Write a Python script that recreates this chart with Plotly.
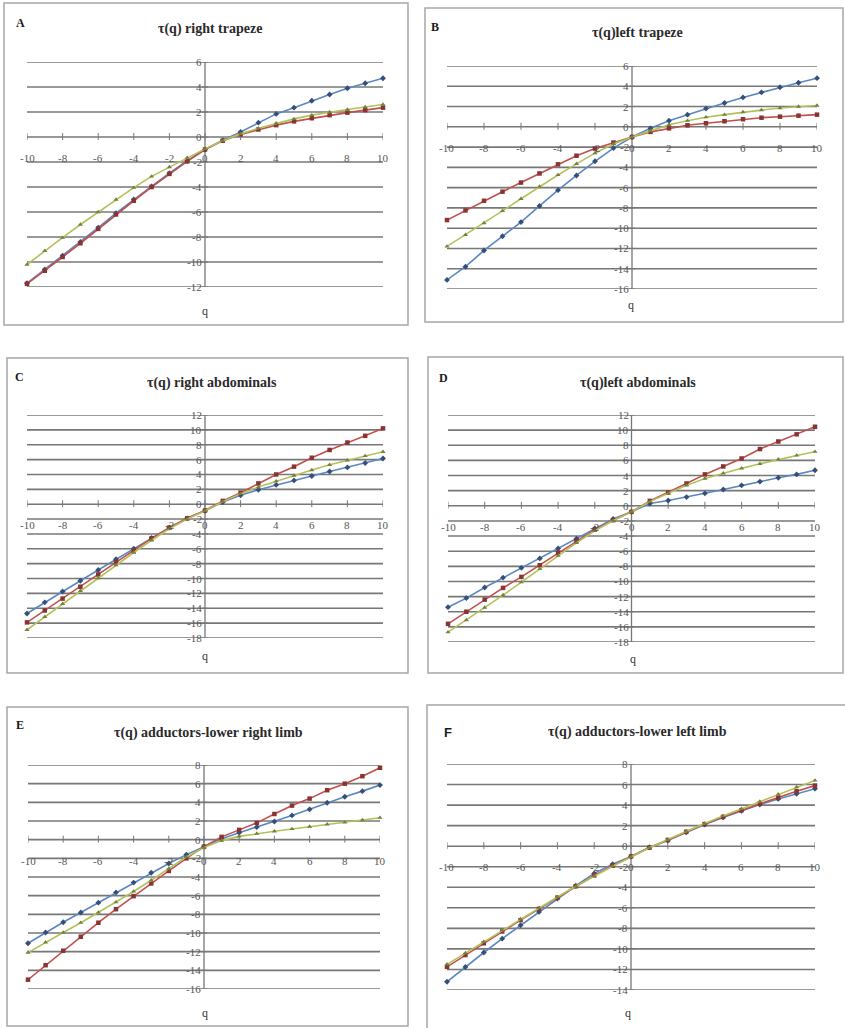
import plotly.graph_objects as go

# q values shared by every panel
Q = list(range(-10, 11))

# tau(q) curves, three series per panel (blue, red, green)
A_BLUE = [-11.7, -10.6, -9.5, -8.4, -7.25, -6.1, -5.0, -3.95, -2.9, -1.9, -1.0, -0.25, 0.4, 1.15, 1.85, 2.35, 2.9, 3.4, 3.9, 4.3, 4.7]
A_RED = [-11.75, -10.7, -9.6, -8.5, -7.35, -6.2, -5.1, -4.0, -2.95, -1.95, -1.0, -0.3, 0.2, 0.6, 0.95, 1.25, 1.5, 1.75, 1.95, 2.15, 2.35]
A_GREEN = [-10.2, -9.1, -8.05, -7.0, -6.0, -5.0, -4.05, -3.15, -2.4, -1.65, -0.95, -0.3, 0.25, 0.7, 1.1, 1.45, 1.75, 2.0, 2.2, 2.4, 2.6]

B_BLUE = [-15.1, -13.8, -12.2, -10.8, -9.4, -7.8, -6.25, -4.8, -3.4, -2.1, -1.0, -0.15, 0.6, 1.2, 1.8, 2.35, 2.9, 3.4, 3.9, 4.35, 4.8]
B_RED = [-9.2, -8.25, -7.3, -6.4, -5.5, -4.6, -3.7, -2.85, -2.15, -1.55, -1.0, -0.5, -0.15, 0.15, 0.35, 0.55, 0.75, 0.9, 1.0, 1.1, 1.2]
B_GREEN = [-11.8, -10.65, -9.5, -8.3, -7.1, -5.9, -4.75, -3.65, -2.6, -1.7, -1.0, -0.4, 0.2, 0.6, 0.95, 1.2, 1.45, 1.65, 1.85, 2.0, 2.1]

C_BLUE = [-14.7, -13.2, -11.75, -10.3, -8.85, -7.4, -6.0, -4.55, -3.15, -1.9, -0.9, 0.3, 1.2, 1.95, 2.6, 3.2, 3.8, 4.4, 4.95, 5.55, 6.15]
C_RED = [-15.9, -14.3, -12.7, -11.1, -9.45, -7.8, -6.2, -4.6, -3.15, -1.9, -0.85, 0.45, 1.55, 2.8, 4.0, 5.05, 6.25, 7.3, 8.3, 9.2, 10.2]
C_GREEN = [-16.9, -15.15, -13.4, -11.65, -9.95, -8.2, -6.5, -4.85, -3.3, -2.0, -0.9, 0.35, 1.4, 2.3, 3.1, 3.85, 4.6, 5.3, 5.9, 6.5, 7.05]

D_BLUE = [-13.4, -12.2, -10.8, -9.5, -8.2, -6.95, -5.65, -4.35, -3.0, -1.75, -0.8, 0.3, 0.7, 1.15, 1.65, 2.15, 2.7, 3.2, 3.7, 4.15, 4.7]
D_RED = [-15.6, -14.0, -12.4, -10.85, -9.4, -7.85, -6.2, -4.65, -3.15, -1.9, -0.8, 0.65, 1.75, 2.95, 4.15, 5.2, 6.25, 7.5, 8.5, 9.45, 10.45]
D_GREEN = [-16.7, -15.1, -13.45, -11.8, -10.1, -8.35, -6.6, -4.9, -3.3, -1.95, -0.8, 0.55, 1.65, 2.7, 3.6, 4.3, 4.95, 5.55, 6.15, 6.65, 7.15]

E_BLUE = [-11.1, -9.95, -8.85, -7.8, -6.75, -5.65, -4.6, -3.55, -2.55, -1.6, -0.75, 0.1, 0.75, 1.35, 1.95, 2.6, 3.25, 3.95, 4.6, 5.2, 5.85]
E_RED = [-15.0, -13.45, -11.9, -10.4, -8.9, -7.45, -6.05, -4.7, -3.35, -2.0, -0.75, 0.3, 1.05, 1.8, 2.75, 3.65, 4.4, 5.3, 6.0, 6.8, 7.7]
E_GREEN = [-12.1, -11.0, -9.95, -8.9, -7.8, -6.7, -5.55, -4.35, -3.1, -1.85, -0.85, -0.1, 0.35, 0.65, 0.9, 1.15, 1.4, 1.65, 1.85, 2.1, 2.35]

F_BLUE = [-13.2, -11.75, -10.35, -9.0, -7.7, -6.4, -5.1, -3.85, -2.65, -1.75, -1.0, -0.1, 0.55, 1.35, 2.1, 2.8, 3.45, 4.05, 4.6, 5.1, 5.6]
F_RED = [-11.75, -10.6, -9.45, -8.3, -7.2, -6.1, -5.0, -3.9, -2.85, -1.9, -1.0, -0.15, 0.6, 1.4, 2.15, 2.85, 3.5, 4.15, 4.75, 5.35, 5.9]
F_GREEN = [-11.5, -10.4, -9.3, -8.2, -7.1, -6.0, -4.95, -3.9, -2.9, -1.95, -1.05, -0.15, 0.65, 1.45, 2.2, 2.95, 3.65, 4.35, 5.05, 5.75, 6.4]

PANEL_LETTERS = ["A", "B", "C", "D", "E", "F"]
PANEL_TITLES = [
    "τ(q) right trapeze",
    "τ(q)left trapeze",
    "τ(q) right abdominals",
    "τ(q)left abdominals",
    "τ(q) adductors-lower right limb",
    "τ(q) adductors-lower left limb",
]
# y-axis extent (min, max) per panel, gridlines every 2
Y_LIMITS = [(-12, 6), (-16, 6), (-18, 12), (-18, 12), (-16, 8), (-14, 8)]
X_TICKS = list(range(-10, 11, 2))
X_AXIS_TITLE = "q"

SERIES = [
    (A_BLUE, A_RED, A_GREEN),
    (B_BLUE, B_RED, B_GREEN),
    (C_BLUE, C_RED, C_GREEN),
    (D_BLUE, D_RED, D_GREEN),
    (E_BLUE, E_RED, E_GREEN),
    (F_BLUE, F_RED, F_GREEN),
]

# ---- page geometry (pixels) ----
W, H = 845, 1028
# plot area: left, right, top, bottom
PLOT_BOX = [
    (27, 383, 62, 287),
    (447, 817, 66, 289),
    (27, 383, 415, 638),
    (448, 815, 415, 642),
    (28, 380, 765, 989),
    (447, 815, 764, 990),
]
# outer frame: x0, y0, x1, y1
FRAME = [
    (4, 3, 408, 325),
    (425, 8, 843, 322),
    (7, 358, 408, 673),
    (428, 357, 843, 673),
    (7, 707, 408, 1026),
    (427, 705, 846, 1029),
]
LETTER_POS = [(20, 23), (435, 27), (19, 377), (443, 378), (20, 725), (448, 732)]
TITLE_POS = [(210, 29), (637, 33), (212, 383), (638, 383), (208, 733), (637, 732)]
QLABEL_POS = [(205, 311), (631, 305), (205, 656), (633, 659), (205, 1013), (628, 1013)]

LINE_COLORS = ["#5b87c0", "#c0504d", "#b4c05a"]
MARK_COLORS = ["#34507a", "#8a3431", "#76823a"]
MARK_SYMBOLS = ["diamond", "square", "triangle-up"]
GRID_COLOR = "#777777"
TICK_FONT = dict(family="Liberation Serif", size=11, color="#555555")


def fx(px):
    return px / W


def fy(px):
    return 1 - px / H


fig = go.Figure()
shapes = []
annotations = []

for i in range(6):
    n = "" if i == 0 else str(i + 1)
    xa, ya = "x" + n, "y" + n
    left, right, top, bottom = PLOT_BOX[i]
    ymin, ymax = Y_LIMITS[i]

    fig.layout["xaxis" + n] = dict(
        domain=[fx(left), fx(right)], range=[-10, 10], visible=False,
        anchor=ya, fixedrange=True,
    )
    fig.layout["yaxis" + n] = dict(
        domain=[fy(bottom), fy(top)], range=[ymin, ymax], visible=False,
        anchor=xa, fixedrange=True,
    )

    # horizontal gridlines
    for v in range(ymin, ymax + 1, 2):
        shapes.append(dict(type="line", xref=xa, yref=ya, x0=-10, x1=10.1,
                           y0=v, y1=v, layer="below",
                           line=dict(color=GRID_COLOR, width=1.6)))
        # small tick on the vertical axis
        shapes.append(dict(type="line", xref=xa, yref=ya, xsizemode="pixel",
                           xanchor=0, x0=-3, x1=3, y0=v, y1=v, layer="below",
                           line=dict(color=GRID_COLOR, width=1)))
        annotations.append(dict(xref=xa, yref=ya, x=0, y=v, text=str(v),
                                showarrow=False, xanchor="right", yanchor="middle",
                                xshift=-1, font=TICK_FONT))

    # vertical axis at q = 0
    shapes.append(dict(type="line", xref=xa, yref=ya, x0=0, x1=0,
                       y0=ymin - 0.15, y1=ymax, layer="below",
                       line=dict(color=GRID_COLOR, width=1.3)))

    # ticks and labels along the horizontal axis at tau = 0
    for q in X_TICKS:
        shapes.append(dict(type="line", xref=xa, yref=ya, ysizemode="pixel",
                           yanchor=0, y0=-3, y1=4, x0=q, x1=q, layer="below",
                           line=dict(color=GRID_COLOR, width=1)))
        annotations.append(dict(xref=xa, yref=ya, x=q, y=0, text=str(q),
                                showarrow=False, xanchor="center", yanchor="middle",
                                yshift=-21, font=TICK_FONT))

    # frame around the panel
    x0, y0, x1, y1 = FRAME[i]
    shapes.append(dict(type="rect", xref="paper", yref="paper",
                       x0=fx(x0), x1=fx(x1), y0=fy(y1), y1=fy(y0),
                       line=dict(color="#a6a6a6", width=1.5)))

    # panel letter, title and axis title
    lx, ly = LETTER_POS[i]
    letter_font = dict(family="Liberation Serif", size=12, color="#1a1a1a")
    if PANEL_LETTERS[i] == "F":
        letter_font = dict(family="Liberation Sans", size=13, color="#1a1a1a")
    annotations.append(dict(xref="paper", yref="paper", x=fx(lx), y=fy(ly),
                            text="<b>%s</b>" % PANEL_LETTERS[i], showarrow=False,
                            xanchor="center", yanchor="middle", font=letter_font))
    tx, ty = TITLE_POS[i]
    annotations.append(dict(xref="paper", yref="paper", x=fx(tx), y=fy(ty),
                            text="<b>%s</b>" % PANEL_TITLES[i], showarrow=False,
                            xanchor="center", yanchor="middle",
                            font=dict(family="Liberation Serif", size=14, color="#2a2a2a")))
    qx, qy = QLABEL_POS[i]
    annotations.append(dict(xref="paper", yref="paper", x=fx(qx), y=fy(qy),
                            text=X_AXIS_TITLE, showarrow=False,
                            xanchor="center", yanchor="middle",
                            font=dict(family="Liberation Serif", size=12, color="#333333")))

    for k, vals in enumerate(SERIES[i]):
        fig.add_trace(go.Scatter(
            x=Q, y=vals, xaxis=xa, yaxis=ya, mode="lines+markers",
            line=dict(color=LINE_COLORS[k], width=1.6),
            marker=dict(symbol=MARK_SYMBOLS[k], size=4.5, color=MARK_COLORS[k]),
            showlegend=False, cliponaxis=False,
        ))

fig.update_layout(
    width=W, height=H,
    margin=dict(l=0, r=0, t=0, b=0),
    paper_bgcolor="white", plot_bgcolor="rgba(0,0,0,0)",
    shapes=shapes, annotations=annotations,
    showlegend=False,
)

fig.write_html("out.html", config=dict(displayModeBar=False))
